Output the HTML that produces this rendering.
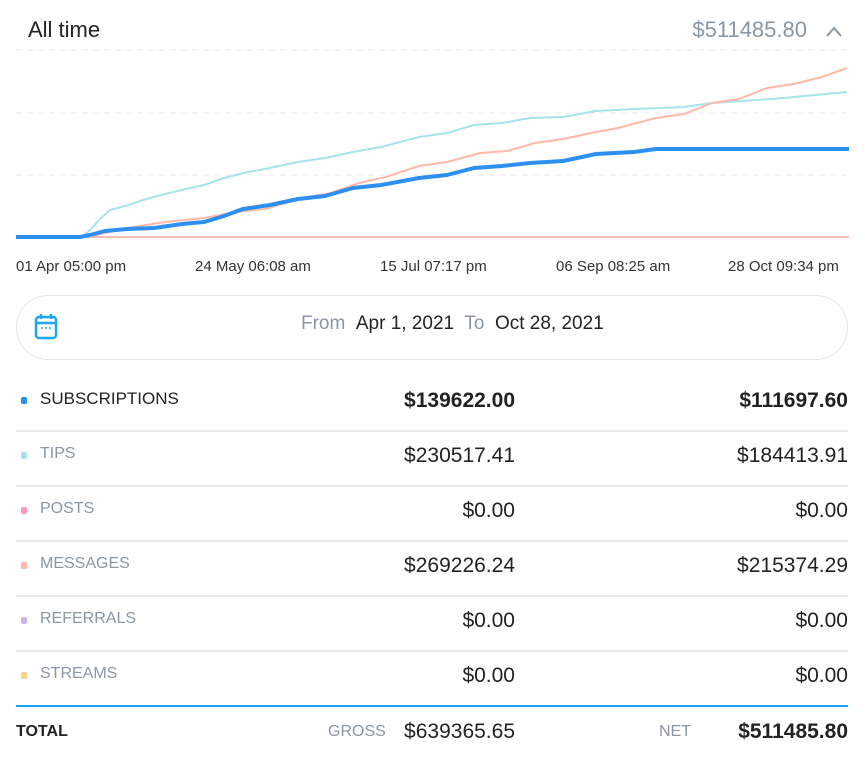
<!DOCTYPE html>
<html><head><meta charset="utf-8"><style>
body{margin:0;width:865px;height:761px;background:#fff;font-family:"Liberation Sans",sans-serif;position:relative;overflow:hidden}
.a{position:absolute;white-space:nowrap}
.lbl{left:40px;font-size:16px;color:#8a96a3;line-height:20px}
.dot{position:absolute;left:21px;width:6px;height:7px;border-radius:2px}
.v1{right:350px;font-size:21px;color:#222;line-height:22px}
.v2{right:17px;font-size:21px;color:#222;line-height:22px}
.sep{position:absolute;left:16px;width:832px;height:2px;background:#e7e9ec}
.tick{font-size:15px;color:#333;top:259px;line-height:16px}
</style></head><body>
<div class="a" style="left:28px;top:17px;font-size:22px;color:#222">All time</div>
<div class="a" style="right:58px;top:17px;font-size:22px;color:#8a96a3">$511485.80</div>
<svg class="a" style="left:824px;top:24px" width="22" height="16"><polyline points="3,12 10,4 17,12" fill="none" stroke="#8a96a3" stroke-width="2"/></svg>
<svg class="a" style="left:0;top:0" width="865" height="250">
<g stroke="#e8eaed" stroke-dasharray="6,5" stroke-width="1">
<line x1="16" y1="50" x2="849" y2="50"/><line x1="16" y1="113" x2="849" y2="113"/><line x1="16" y1="175" x2="849" y2="175"/></g>
<line x1="16" y1="237" x2="849" y2="237" stroke="#f4a79a" stroke-width="1.5"/>
<polyline fill="none" stroke="#a6e3ec" stroke-width="2" stroke-linejoin="round" points="16,237 82,237 90,230 99,220 110,210 121,207 132,204 143,200 165,194 182,190 204,185 221,179 243,173 265,169 298,162 325,158 353,152 381,147 419,137 447,133 474,125 502,123 530,118 563,117 596,111 634,109 684,107 712,103 772,99 794,97 847,92"/>
<polyline fill="none" stroke="#fdb9a5" stroke-width="2" stroke-linejoin="round" points="88,237 127,228 165,222 204,218 237,212 265,209 298,199 331,193 359,183 386,177 419,166 447,162 480,153 507,151 535,143 563,139 596,132 618,128 656,118 684,114 712,103 739,99 767,88 794,84 822,77 847,68"/>
<polyline fill="none" stroke="#2d8ff0" stroke-width="4" stroke-linejoin="round" points="16,237 80,237 90,235 105,231 127,229 154,228 182,224 204,222 221,217 243,209 270,205 298,199 325,196 353,188 381,185 419,178 447,175 474,168 502,166 530,163 563,161 596,154 634,152 656,149 849,149"/>
</svg>
<div class="a tick" style="left:16px">01 Apr 05:00 pm</div>
<div class="a tick" style="left:195px">24 May 06:08 am</div>
<div class="a tick" style="left:380px">15 Jul 07:17 pm</div>
<div class="a tick" style="left:556px">06 Sep 08:25 am</div>
<div class="a tick" style="left:728px">28 Oct 09:34 pm</div>
<div class="a" style="left:16px;top:295px;width:830px;height:63px;border:1px solid #e3e6ea;border-radius:32px"></div>
<svg class="a" style="left:33px;top:312px" width="26" height="28"><rect x="3" y="5" width="20" height="21" rx="3" fill="none" stroke="#1ea7f0" stroke-width="2.5"/><line x1="3" y1="11" x2="23" y2="11" stroke="#1ea7f0" stroke-width="2.5"/><line x1="8" y1="2" x2="8" y2="7" stroke="#1ea7f0" stroke-width="2.5"/><line x1="18" y1="2" x2="18" y2="7" stroke="#1ea7f0" stroke-width="2.5"/><circle cx="9" cy="16" r="1" fill="#1ea7f0"/><circle cx="13" cy="16" r="1" fill="#1ea7f0"/><circle cx="17" cy="16" r="1" fill="#1ea7f0"/></svg>
<div class="a" style="left:301px;top:313px;font-size:19px;color:#8a96a3">From <span style="color:#222">&nbsp;Apr 1, 2021&nbsp;</span> To <span style="color:#222">&nbsp;Oct 28, 2021</span></div>

<div class="dot" style="top:397px;background:#2d8ff0"></div><div class="a lbl" style="top:389px;color:#222;font-size:17px">SUBSCRIPTIONS</div>
<div class="a v1" style="top:390px;font-weight:bold">$139622.00</div><div class="a v2" style="top:390px;font-weight:bold">$111697.60</div>
<div class="sep" style="top:430px"></div>
<div class="dot" style="top:452px;background:#a6e3ec"></div><div class="a lbl" style="top:444px">TIPS</div>
<div class="a v1" style="top:445px">$230517.41</div><div class="a v2" style="top:445px">$184413.91</div>
<div class="sep" style="top:485px"></div>
<div class="dot" style="top:507px;background:#f59bb8"></div><div class="a lbl" style="top:499px">POSTS</div>
<div class="a v1" style="top:500px">$0.00</div><div class="a v2" style="top:500px">$0.00</div>
<div class="sep" style="top:540px"></div>
<div class="dot" style="top:562px;background:#fdb9a5"></div><div class="a lbl" style="top:554px">MESSAGES</div>
<div class="a v1" style="top:555px">$269226.24</div><div class="a v2" style="top:555px">$215374.29</div>
<div class="sep" style="top:595px"></div>
<div class="dot" style="top:617px;background:#cdb5ec"></div><div class="a lbl" style="top:609px">REFERRALS</div>
<div class="a v1" style="top:610px">$0.00</div><div class="a v2" style="top:610px">$0.00</div>
<div class="sep" style="top:650px"></div>
<div class="dot" style="top:672px;background:#fdcf8a"></div><div class="a lbl" style="top:664px">STREAMS</div>
<div class="a v1" style="top:665px">$0.00</div><div class="a v2" style="top:665px">$0.00</div>
<div class="sep" style="top:705px;background:#12a9ee"></div>
<div class="a" style="left:16px;top:723px;font-size:16px;font-weight:bold;color:#222">TOTAL</div>
<div class="a" style="left:328px;top:723px;font-size:16px;color:#8a96a3">GROSS</div>
<div class="a v1" style="top:721px">$639365.65</div>
<div class="a" style="left:659px;top:723px;font-size:16px;color:#8a96a3">NET</div>
<div class="a v2" style="top:721px;font-weight:bold">$511485.80</div>
</body></html>
